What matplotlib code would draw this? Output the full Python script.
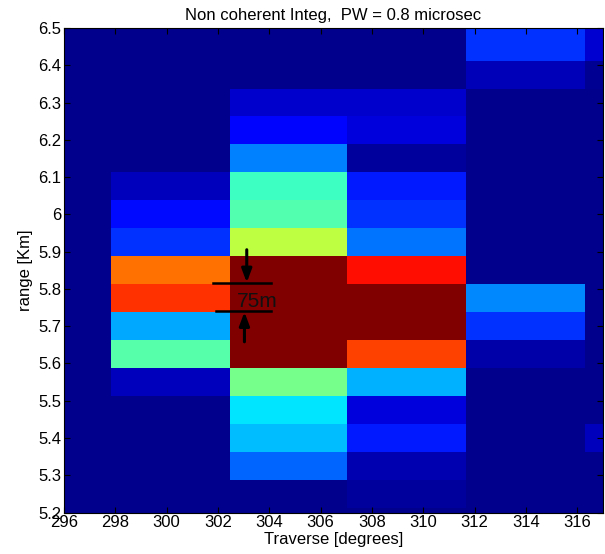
import matplotlib
matplotlib.use("Agg")
import matplotlib.pyplot as plt
from matplotlib.colors import LinearSegmentedColormap
from matplotlib.ticker import FuncFormatter
import numpy as np

plt.rcParams['font.family'] = ['Liberation Sans', 'DejaVu Sans']

# cell edges (traverse in degrees, range in km)
x_edges = [293.2, 297.83, 302.46, 307.03, 311.68, 316.3, 320.9]
y_edges = [5.1375, 5.2125, 5.2875, 5.3625, 5.4375, 5.5125, 5.5875, 5.6625,
           5.7375, 5.8125, 5.8875, 5.9625, 6.0375, 6.1125, 6.1875, 6.2625,
           6.3375, 6.4125, 6.4875, 6.5625]

b = 0.015  # background level
# normalised integrated power, rows bottom -> top, columns left -> right
power = [
    [b, b,     b,     b,     b,     b],     # 5.175
    [b, b,     b,     0.03,  b,     b],     # 5.25
    [b, b,     0.225, 0.05,  b,     b],     # 5.325
    [b, b,     0.31,  0.15,  b,     0.06],  # 5.4
    [b, b,     0.35,  0.09,  b,     b],     # 5.475
    [b, 0.06,  0.49,  0.30,  b,     b],     # 5.55
    [b, 0.46,  1.0,   0.81,  0.04,  b],     # 5.625
    [b, 0.29,  1.0,   1.0,   0.175, b],     # 5.7
    [b, 0.825, 1.0,   1.0,   0.26,  b],     # 5.775
    [b, 0.765, 1.0,   0.86,  b,     b],     # 5.85
    [b, 0.175, 0.56,  0.24,  b,     b],     # 5.925
    [b, 0.135, 0.455, 0.175, b,     b],     # 6.0
    [b, 0.06,  0.435, 0.15,  b,     b],     # 6.075
    [b, b,     0.25,  0.03,  b,     b],     # 6.15
    [b, b,     0.13,  0.09,  b,     b],     # 6.225
    [b, b,     0.075, 0.075, b,     b],     # 6.3
    [b, b,     b,     b,     0.055, 0.02],  # 6.375
    [b, b,     b,     b,     0.175, 0.08],  # 6.45
    [b, b,     b,     b,     0.175, 0.08],  # 6.525
]

x_ticks = [296, 298, 300, 302, 304, 306, 308, 310, 312, 314, 316]
y_ticks = [5.2, 5.3, 5.4, 5.5, 5.6, 5.7, 5.8, 5.9, 6.0, 6.1, 6.2, 6.3, 6.4, 6.5]

# MATLAB style jet
jet = LinearSegmentedColormap.from_list(
    'mjet',
    [(0.0, (0, 0, 0.5)), (0.125, (0, 0, 1)), (0.375, (0, 1, 1)),
     (0.625, (1, 1, 0)), (0.875, (1, 0, 0)), (1.0, (0.5, 0, 0))])

fig = plt.figure(figsize=(6.05, 5.54), dpi=100)
ax = fig.add_axes([0.1058, 0.0749, 0.8909, 0.8746])

ax.pcolormesh(x_edges, y_edges, np.array(power), cmap=jet, vmin=0, vmax=1,
              shading='flat')

ax.set_xlim(296, 317)
ax.set_ylim(5.2, 6.5)
ax.set_xticks(x_ticks)
ax.set_yticks(y_ticks)
ax.yaxis.set_major_formatter(FuncFormatter(lambda v, p: '%g' % v))
ax.tick_params(direction='in', top=True, right=True, length=4, labelsize=12,
               pad=2)

ax.set_title('Non coherent Integ,  PW = 0.8 microsec', fontsize=12, pad=6)
ax.set_xlabel('Traverse [degrees]', fontsize=12, labelpad=1)
ax.set_ylabel('range [Km]', fontsize=12, labelpad=4)

# 75 m range-cell marker
ax.plot([301.79, 304.05], [5.815, 5.815], color='black', lw=1.8)
ax.plot([301.94, 304.05], [5.740, 5.740], color='black', lw=1.8)
ax.annotate('', xy=(303.12, 5.817), xytext=(303.12, 5.905),
            arrowprops=dict(arrowstyle='-|>,head_length=0.8,head_width=0.3',
                            color='black', lw=2.2, shrinkA=0, shrinkB=0))
ax.annotate('', xy=(303.03, 5.738), xytext=(303.03, 5.658),
            arrowprops=dict(arrowstyle='-|>,head_length=0.8,head_width=0.3',
                            color='black', lw=2.2, shrinkA=0, shrinkB=0))
ax.text(302.72, 5.766, '75m', fontsize=15, va='center', ha='left',
        color='#111111')

plt.savefig('out.png', dpi=100)
